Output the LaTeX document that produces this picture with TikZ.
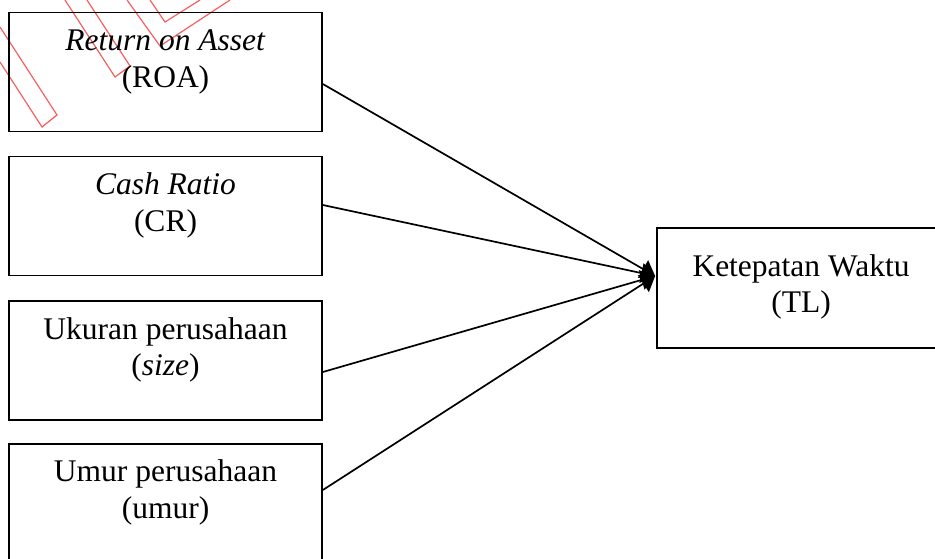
\documentclass[tikz,border=0pt]{standalone}
\usepackage{fontspec}
\setmainfont{Liberation Serif}
\usetikzlibrary{arrows.meta,calc}
\begin{document}
\begin{tikzpicture}[x=1pt,y=-1pt,
  box/.style={draw=black,line width=1.7pt,rectangle,minimum width=313pt,minimum height=119pt,inner sep=0pt},
  tlbox/.style={draw=black,line width=1.7pt,rectangle,minimum width=288pt,minimum height=120pt,inner sep=0pt},
  txt/.style={anchor=base,inner sep=0pt,font=\fontsize{31.5}{36.5}\selectfont},
  conn/.style={draw=black,line width=1.7pt,-{Triangle[length=14pt,width=20pt]}},
  wm/.style={draw={rgb,255:red,245;green,95;blue,95},line width=1.2pt}
]
\useasboundingbox (0,0) rectangle (935,558);
\clip (0,0) rectangle (935,558);
% watermark outlines
\draw[wm] (0,27) -- (57,115) -- (42,127) -- (0,62);
\draw[wm] (65,0) -- (115,77) -- (130,66) -- (87,0);
\draw[wm] (127,0) -- (160,46) -- (230,0);
\draw[wm] (150,0) -- (165,22) -- (200,0);
% boxes
\node[box] (roa) at (165.5,72) {};
\node[box] (cr) at (165.5,216) {};
\node[box] (size) at (165.5,360.5) {};
\node[box] (umur) at (165.5,503.5) {};
\node[tlbox] (tl) at (801,288) {};
% texts
\node[txt] (roa1) at ($(roa.north)+(0,39)$) {\textit{Return on Asset}};
\node[txt] (roa2) at ($(roa.north)+(0,75.5)$) {(ROA)};
\node[txt] (cr1) at ($(cr.north)+(0,39)$) {\textit{Cash Ratio}};
\node[txt] (cr2) at ($(cr.north)+(0,75.5)$) {(CR)};
\node[txt] (size1) at ($(size.north)+(0,39)$) {Ukuran perusahaan};
\node[txt] (size2) at ($(size.north)+(0,75.5)$) {(\textit{size})};
\node[txt] (umur1) at ($(umur.north)+(0,38.5)$) {Umur perusahaan};
\node[txt] (umur2) at ($(umur.north)+(0,75)$) {(umur)};
\node[txt] (tl1) at ($(tl.north)+(0,49)$) {Ketepatan Waktu};
\node[txt] (tl2) at ($(tl.north)+(0,85)$) {(TL)};
% connectors
\coordinate (hub) at ($(tl.west)+(-1,-12)$);
\draw[conn] ($(roa.east)+(0,12)$) -- (hub);
\draw[conn] ($(cr.east)+(0,-11)$) -- (hub);
\draw[conn] ($(size.east)+(0,11.5)$) -- (hub);
\draw[conn] ($(umur.east)+(0,-13.5)$) -- (hub);
\end{tikzpicture}
\end{document}
